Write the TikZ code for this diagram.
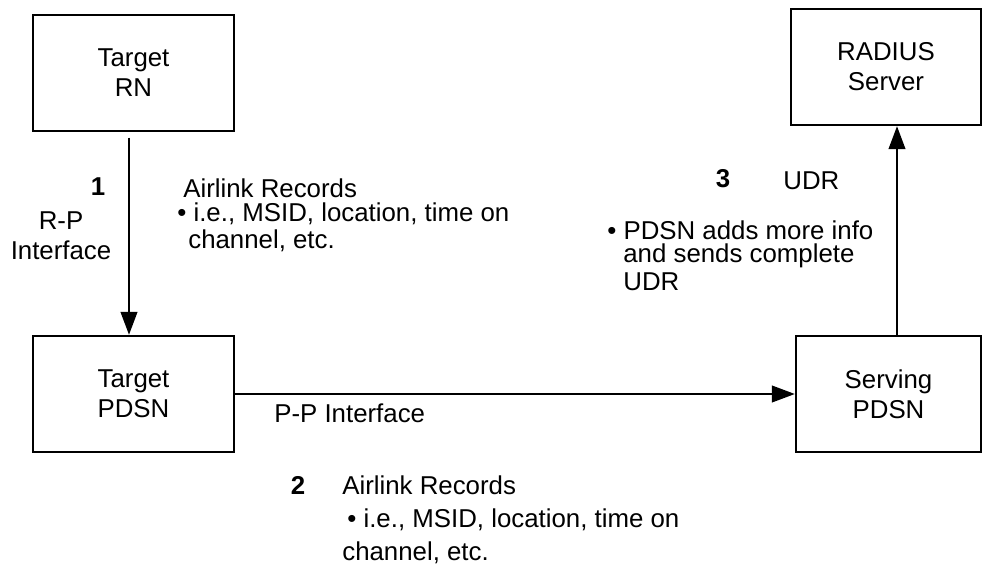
\documentclass[tikz,border=0pt]{standalone}
\usepackage{fontspec}
\setmainfont{Liberation Sans}
\usetikzlibrary{arrows.meta, positioning}

\begin{document}
\begin{tikzpicture}[
    x=0.02cm, y=-0.02cm,
    font=\fontsize{14.7}{17}\selectfont,
    box/.style={draw, line width=1.4pt, minimum height=2.32cm, align=center, inner sep=0pt},
    link/.style={line width=0.95pt, -{Triangle[length=13pt,width=9.5pt]}},
    txt/.style={anchor=west, inner sep=0pt},
    num/.style={inner sep=0pt, font=\fontsize{14.7}{17}\selectfont\bfseries}
  ]
    \useasboundingbox (0,0) rectangle (983,577);

    \node[box, minimum width=4.02cm] (rn) at (133.5,73) {Target\\RN};
    \node[box, minimum width=4.02cm] (tpdsn) at (133.5,394) {Target\\PDSN};
    \node[box, minimum width=3.7cm] (spdsn) at (888.5,394) {Serving\\PDSN};
    \node[box, minimum width=3.8cm] (radius) at (886,67) {RADIUS\\Server};

    \draw[link] ([xshift=-0.09cm, yshift=-0.11cm]rn.south) -- ([xshift=-0.09cm]tpdsn.north);
    \draw[link] (tpdsn.east) -- (spdsn.west);
    \draw[link] ([xshift=0.17cm]spdsn.north) -- ([xshift=0.17cm]spdsn.north |- radius.south);

    \node[num] (n1) at (98,187) {1};
    \node[align=center, inner sep=0pt] (rp) at (61,236) {R-P\\Interface};
    \node[txt] (air1) at (183,188) {Airlink Records};
    \node[txt] (msid1) at (177,214) {• i.e., MSID, location, time on};
    \node[txt] (chan1) at (188,241) {channel, etc.};

    \node[txt] (pp) at (274,413) {P-P Interface};
    \node[num] (n2) at (298,485) {2};
    \node[txt] (air2) at (342,485) {Airlink Records};
    \node[txt] (msid2) at (347,520) {• i.e., MSID, location, time on};
    \node[txt] (chan2) at (342,553) {channel, etc.};

    \node[num] (n3) at (723,179) {3};
    \node[txt] (udr) at (783,181) {UDR};
    \node[txt] (info) at (607,230) {• PDSN adds more info};
    \node[txt] (sends) at (623,256) {and sends complete};
    \node[txt] (udr2) at (623,282) {UDR};
\end{tikzpicture}
\end{document}
